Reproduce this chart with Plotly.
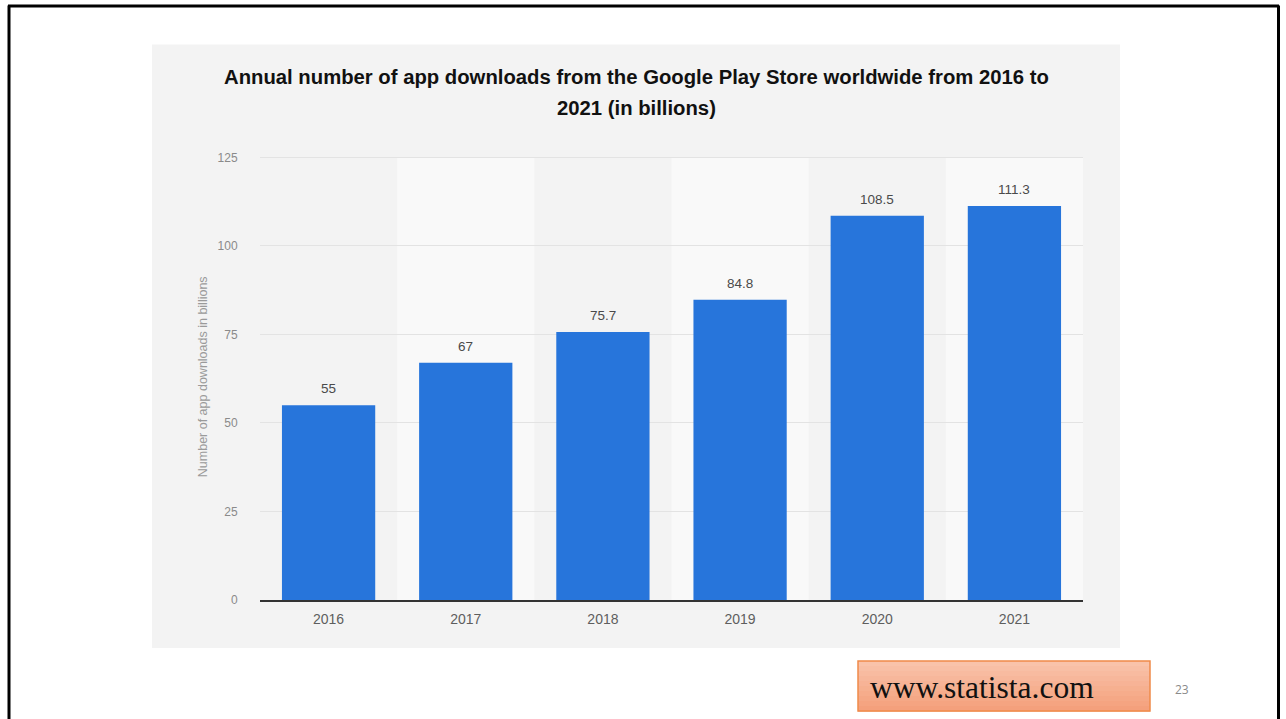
import plotly.graph_objects as go

years = ["2016", "2017", "2018", "2019", "2020", "2021"]
downloads = [55, 67, 75.7, 84.8, 108.5, 111.3]
y_ticks = [0, 25, 50, 75, 100, 125]
title_line1 = "Annual number of app downloads from the Google Play Store worldwide from 2016 to"
title_line2 = "2021 (in billions)"
y_title = "Number of app downloads in billions"
source_text = "www.statista.com"
page_number = "23"

W, H = 1286, 719
L, R, B = 260, 1083, 600
Y_TOP = 157          # pixel row of the 125 gridline
Y_MAX = 125.4        # axis max, slightly above 125 so the top gridline is drawn
T = B - (B - Y_TOP) * Y_MAX / 125.0


def px(x):
    return (x - L) / (R - L)


def py(y):
    return (B - y) / (B - T)


fig = go.Figure()
fig.add_trace(go.Bar(
    x=years, y=downloads,
    marker=dict(color="#2775db", line=dict(width=0)),
    width=0.68,
    hoverinfo="skip",
))

shapes = []
# grey panel
shapes.append(dict(type="rect", xref="paper", yref="paper",
                   x0=px(152), x1=px(1120), y0=py(648), y1=py(44),
                   fillcolor="#f3f3f3", line=dict(width=0), layer="below"))
# alternating lighter columns
for i, _ in enumerate(years):
    if i % 2 == 1:
        shapes.append(dict(type="rect", xref="x", yref="y",
                           x0=i - 0.5, x1=i + 0.5, y0=0, y1=125,
                           fillcolor="#f9f9f9", line=dict(width=0), layer="below"))
# slide border
bc = dict(color="#000000", width=3)
shapes.append(dict(type="line", xref="paper", yref="paper",
                   x0=px(8), x1=px(1279), y0=py(5.5), y1=py(5.5), line=bc))
shapes.append(dict(type="line", xref="paper", yref="paper",
                   x0=px(9), x1=px(9), y0=py(5), y1=py(730), line=bc))
shapes.append(dict(type="line", xref="paper", yref="paper",
                   x0=px(1278.5), x1=px(1278.5), y0=py(5), y1=py(730), line=bc))
# source box (vertical gradient approximated with bands)
box_top, box_bot = 661, 711
n_bands = 10
c_top = (249, 195, 170)
c_bot = (244, 160, 124)
for k in range(n_bands):
    f = k / (n_bands - 1)
    c = tuple(round(c_top[j] + (c_bot[j] - c_top[j]) * f) for j in range(3))
    y0 = box_top + (box_bot - box_top) * k / n_bands
    y1 = box_top + (box_bot - box_top) * (k + 1) / n_bands
    shapes.append(dict(type="rect", xref="paper", yref="paper",
                       x0=px(858), x1=px(1150), y0=py(y1 + 0.5), y1=py(y0),
                       fillcolor=f"rgb{c}", line=dict(width=0)))
shapes.append(dict(type="rect", xref="paper", yref="paper",
                   x0=px(858), x1=px(1150), y0=py(box_bot), y1=py(box_top),
                   fillcolor="rgba(0,0,0,0)", line=dict(color="#ef8a4a", width=1.5)))

annotations = [
    dict(text=f"<b>{title_line1}</b>", xref="paper", yref="paper",
         x=px(636), y=py(77), xanchor="center", yanchor="middle", showarrow=False,
         font=dict(family="Liberation Sans, Arial", size=20.3, color="#111111")),
    dict(text=f"<b>{title_line2}</b>", xref="paper", yref="paper",
         x=px(636), y=py(108), xanchor="center", yanchor="middle", showarrow=False,
         font=dict(family="Liberation Sans, Arial", size=20.3, color="#111111")),
    dict(text=y_title, xref="paper", yref="paper",
         x=px(203), y=py(377), xanchor="center", yanchor="middle", showarrow=False,
         textangle=-90,
         font=dict(family="Liberation Sans, Arial", size=12.5, color="#9a9a9a")),
    dict(text=source_text, xref="paper", yref="paper",
         x=px(868), y=py(688), xanchor="left", yanchor="middle", showarrow=False,
         font=dict(family="Liberation Serif, Times New Roman", size=31.5, color="#111111")),
    dict(text=page_number, xref="paper", yref="paper",
         x=px(1182), y=py(690), xanchor="center", yanchor="middle", showarrow=False,
         font=dict(family="Open Sans, Liberation Sans", size=12, color="#8a8a8a")),
]
# value labels above bars (category index positions on the x axis)
for i, v in enumerate(downloads):
    annotations.append(dict(
        text=f"{v:g}", x=i, y=v, xref="x", yref="y",
        xanchor="center", yanchor="bottom", yshift=7, showarrow=False,
        font=dict(family="Liberation Sans, Arial", size=13.5, color="#4a4a4a")))

fig.update_layout(
    width=W, height=H,
    margin=dict(l=L, r=W - R, t=T, b=H - B, pad=0),
    paper_bgcolor="#ffffff",
    plot_bgcolor="rgba(0,0,0,0)",
    showlegend=False,
    shapes=shapes,
    annotations=annotations,
    bargap=0.32,
)
fig.update_xaxes(
    type="category", range=[-0.5, 5.5],
    showgrid=False, showline=True, linecolor="#333333", linewidth=1.5,
    ticks="outside", ticklen=5, tickcolor="rgba(0,0,0,0)",
    tickfont=dict(family="Liberation Sans, Arial", size=14, color="#5e5e5e"),
    fixedrange=True,
)
fig.update_yaxes(
    range=[0, Y_MAX], tickvals=y_ticks,
    showgrid=True, gridcolor="#e3e3e3", gridwidth=1,
    zeroline=False, showline=False,
    ticks="outside", ticklen=19, tickcolor="rgba(0,0,0,0)",
    tickfont=dict(family="Liberation Sans, Arial", size=12, color="#8a8a8a"),
    fixedrange=True,
)

fig.write_html("out.html")
